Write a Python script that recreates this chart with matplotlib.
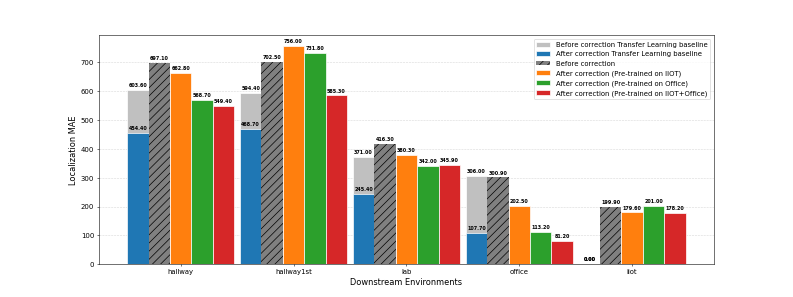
import numpy as np
import matplotlib
matplotlib.use("Agg")
import matplotlib.pyplot as plt

envs = ['hallway', 'hallway1st', 'lab', 'office', 'iiot']
tl_before = [603.60, 594.40, 371.00, 306.00, 0.00]
tl_after = [454.40, 468.70, 245.40, 107.70, 0.00]
before = [697.10, 702.50, 416.30, 300.90, 199.90]
after_iiot = [662.80, 756.00, 380.30, 202.50, 179.60]
after_office = [568.70, 731.80, 342.00, 113.20, 201.00]
after_both = [549.40, 585.30, 345.90, 81.20, 178.20]


def label_bars(ax, bars):
    for b in bars:
        h = b.get_height()
        ax.text(b.get_x() + b.get_width() / 2, h + 8, f'{h:.2f}',
                ha='center', va='bottom', fontsize=7, fontweight='bold')


fig, ax = plt.subplots(figsize=(16, 6), dpi=793 / 16)
x = np.arange(len(envs))
w = 0.19

b1 = ax.bar(x - 2 * w, tl_before, w, color='silver', edgecolor='white',
            label='Before correction Transfer Learning baseline')
b2 = ax.bar(x - 2 * w, tl_after, w, color='tab:blue', edgecolor='white',
            label='After correction Transfer Learning baseline')
b3 = ax.bar(x - w, before, w, color='gray', edgecolor='black', hatch='//',
            linewidth=0, label='Before correction')
b4 = ax.bar(x, after_iiot, w, color='tab:orange', edgecolor='white',
            label='After correction (Pre-trained on IIOT)')
b5 = ax.bar(x + w, after_office, w, color='tab:green', edgecolor='white',
            label='After correction (Pre-trained on Office)')
b6 = ax.bar(x + 2 * w, after_both, w, color='tab:red', edgecolor='white',
            label='After correction (Pre-trained on IIOT+Office)')

for bars in [b1, b2, b3, b4, b5, b6]:
    label_bars(ax, bars)

ax.set_xticks(x)
ax.set_xticklabels(envs)
ax.set_xlabel('Downstream Environments', fontsize=12)
ax.set_ylabel('Localization MAE', fontsize=12)
ax.yaxis.grid(True, linestyle='--', alpha=0.5)
ax.set_axisbelow(True)
ax.legend(loc='upper right', fontsize=10)

plt.savefig('out.png', dpi=793 / 16)
